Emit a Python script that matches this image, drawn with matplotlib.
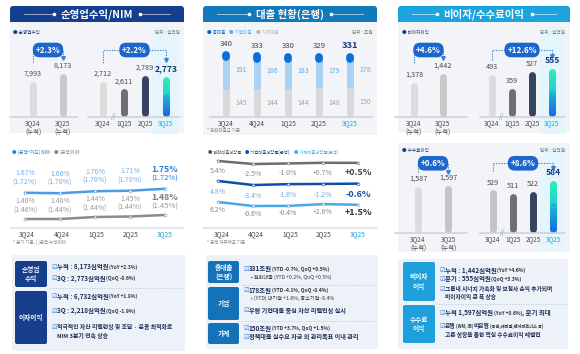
import matplotlib.pyplot as plt
import matplotlib.colors as mcolors
import numpy as np
from matplotlib.patches import FancyBboxPatch, Rectangle

plt.rcParams['font.family'] = ['Noto Sans CJK KR', 'DejaVu Sans']

# ---- data ----
cum_labels = ['3Q24\n(누적)', '3Q25\n(누적)']
q_labels = ['3Q24', '1Q25', '2Q25', '3Q25']
quarters = ['3Q24', '4Q24', '1Q25', '2Q25', '3Q25']

op_cum = [7993, 8173]
op_q = [2712, 2611, 2789, 2773]
op_cum_chg = '+2.3%'
op_q_chg = '+2.2%'

nim_card = [1.67, 1.66, 1.70, 1.71, 1.75]
nim_card_cum = [1.72, 1.70, 1.70, 1.70, 1.72]
nim_bank = [1.40, 1.40, 1.44, 1.45, 1.48]
nim_bank_cum = [1.46, 1.44, 1.44, 1.44, 1.45]

loan_total = [340, 333, 330, 329, 331]
loan_corp = [191, 186, 183, 179, 178]
loan_hh = [145, 144, 144, 148, 150]

growth_krw = [5.4, -2.5, -1.0, 0.7, 0.5]
growth_corp = [4.8, -3.4, -1.6, -1.2, -0.6]
growth_hh = [6.2, -0.6, -0.4, 2.6, 1.5]

nonint_cum = [1378, 1442]
nonint_q = [493, 359, 527, 555]
nonint_cum_chg = '+4.6%'
nonint_q_chg = '+12.6%'

fee_cum = [1587, 1597]
fee_q = [529, 511, 522, 584]
fee_cum_chg = '+0.6%'
fee_q_chg = '+8.6%'

# ---- canvas ----
W, H = 580, 354
fig = plt.figure(figsize=(W / 100, H / 100), dpi=100)
cv = fig.add_axes([0, 0, 1, 1])
cv.set_xlim(0, W)
cv.set_ylim(H, 0)
cv.set_axis_off()
rend = fig.canvas.get_renderer()

NAVY = '#1b3a7a'
TXT = '#1e2d55'
HL = '#2a9ed8'
GRAD = mcolors.LinearSegmentedColormap.from_list('grad', ['#1a6ee0', '#1fc8d6', '#2ee8bf'])
GREY_BARS = ['#dcdcdc', '#c9c9c9']
Q_BARS = ['#dcdcdc', '#6f6f6f', '#35455f', 'grad']


def px_axes(x0, y0, x1, y1):
    ax = fig.add_axes([x0 / W, 1 - y1 / H, (x1 - x0) / W, (y1 - y0) / H])
    ax.set_axis_off()
    return ax


def box(x0, y0, x1, y1, color, r=0.0):
    if r:
        p = FancyBboxPatch((x0 + r, y0 + r), x1 - x0 - 2 * r, y1 - y0 - 2 * r,
                           boxstyle=f'round,pad={r}', fc=color, ec='none')
    else:
        p = Rectangle((x0, y0), x1 - x0, y1 - y0, fc=color, ec='none')
    cv.add_patch(p)


def header(x0, x1, title, color):
    box(x0, 6, x1, 22, color, r=3)
    box(x0, 14, x1, 22, color)
    cx = (x0 + x1) / 2
    t = cv.text(cx, 14, title, ha='center', va='center', color='white',
                fontsize=7.5, fontweight='bold')
    half = t.get_window_extent(rend).width / 2 + 7
    cv.plot([x0 + 14, cx - half], [14, 14], color='white', lw=0.5, alpha=0.8)
    cv.plot([cx + half, x1 - 14], [14, 14], color='white', lw=0.5, alpha=0.8)
    cv.plot([cx - half, cx + half], [14, 14], 'o', ms=1.6, color='white', ls='none')


def bar_group(px, xlim, ylim, vals, labels, colors, hl=False):
    x0, y0, x1, y1 = px
    ax = px_axes(*px)
    ax.set_xlim(*xlim)
    ax.set_ylim(*ylim)
    upp = (ylim[1] - ylim[0]) / (y1 - y0)
    base = ylim[0] + 3.6 * upp
    for i, (v, c) in enumerate(zip(vals, colors)):
        top = v - 3.6 * upp
        if c == 'grad':
            ax.vlines(i, base, top, colors=[GRAD(1.0)], lw=5, capstyle='round')
            ax.vlines(i, base, (base + top) / 2, colors=[GRAD(0.0)], lw=5, capstyle='round')
            edges = np.linspace(base, top, 41)
            ax.vlines(np.full(40, i), edges[:-1], edges[1:],
                      colors=GRAD(np.linspace(0, 1, 40)), lw=5, capstyle='butt')
        else:
            ax.vlines(i, base, top, colors=c, lw=5, capstyle='round')
        last = hl and i == len(vals) - 1
        ax.text(i, v + 3 * upp, f'{v:,}', ha='center', va='bottom',
                fontsize=6.2 if last else 5.2, fontweight='bold' if last else 'normal',
                color=NAVY if last else '#4a4a4a')
        ax.text(i, ylim[0] - 2.5 * upp, labels[i], ha='center', va='top', fontsize=4.6,
                linespacing=1.15, color=HL if last else '#4a4a4a')
    ax.axhline(ylim[0], color='#cdd0d4', lw=1.1, clip_on=False)
    if hl:
        ax.text(0.5, ylim[0], '//', ha='center', va='center', fontsize=5,
                color='#7fa9d8', style='italic')
    return ax


def pill(ax, xb, text, yp, ya, yb, xa=0):
    tr = ax.get_xaxis_transform()
    ax.plot([xa, xa, xb, xb], [ya, yp, yp, yb], transform=tr, color='#3b82d6', lw=0.8,
            ls=(0, (1.2, 1.2)), clip_on=False)
    ax.plot([xb], [yb], marker='v', ms=2.6, transform=tr, color='#3b82d6',
            ls='none', clip_on=False)
    ax.text((xa + xb) / 2, yp, text, transform=tr, ha='center', va='center', fontsize=5.8,
            fontweight='bold', color='white', zorder=6,
            bbox=dict(boxstyle='round,pad=0.35,rounding_size=0.85', fc='#1d67cc', ec='none'))


def strip(px_x0, px_x1, first, step, yc, vals, scale, color):
    ax = px_axes(px_x0, yc - 20, px_x1, yc + 20)
    m = (max(vals) + min(vals)) / 2
    ax.set_ylim(m - 20 * scale, m + 20 * scale)
    ax.set_xlim((px_x0 - first) / step, (px_x1 - first) / step)
    ax.plot(np.arange(len(vals)), vals, color=color, lw=1.8, solid_capstyle='round',
            marker='o', ms=2.0, mfc='white', mec=color, mew=0.4, clip_on=False)
    return ax


def xlabels(px_x0, px_x1, first, step, y, labels):
    ax = px_axes(px_x0, y - 4, px_x1, y + 4)
    ax.set_xlim((px_x0 - first) / step, (px_x1 - first) / step)
    ax.set_ylim(0, 1)
    for i, lab in enumerate(labels):
        ax.text(i, 0.5, lab, ha='center', va='center', fontsize=4.8,
                color=HL if i == len(labels) - 1 else '#4a4a4a')


def rich(x, y, parts, gap=0.5):
    for txt, fs, bold, col in parts:
        t = cv.text(x, y, txt, fontsize=fs, fontweight='bold' if bold else 'normal',
                    color=col, ha='left', va='center')
        x = t.get_window_extent(rend).x1 + gap


def legend_row(x, y, items, fs=3.3):
    rich(x, y, [(f'● {txt}', fs, False, col) for txt, col in items], gap=4)


def check(x, y, parts):
    cv.text(x, y, '☑', fontsize=4.5, color='#3b7dd8', ha='left', va='center',
            family=['DejaVu Sans'])
    rich(x + 6, y, parts)


def label_box(x0, y0, x1, y1, text, color):
    box(x0, y0, x1, y1, color, r=2)
    cv.text((x0 + x1) / 2, (y0 + y1) / 2, text, ha='center', va='center', color='white',
            fontsize=4.8, fontweight='bold', linespacing=1.4)


def sep(x0, x1, y):
    cv.plot([x0, x1], [y, y], color='#b9c9dd', lw=0.5, ls=(0, (2, 1.5)))


def small(x, y, text, color='#555555', ha='left', fs=3.4):
    cv.text(x, y, text, fontsize=fs, color=color, ha=ha, va='center')


# ---- backgrounds ----
header(10, 184, '순영업수익/NIM', '#143f8e')
header(203, 377, '대출 현황(은행)', '#1279bb')
header(398, 570, '비이자/수수료이익', '#1ba4de')

box(10, 22, 184, 133, '#f3f4f7')
box(152, 27, 178, 134, '#e4f6fb')
box(203, 22, 377, 135, '#f3f4f7')
box(398, 22, 570, 133, '#f3f4f7')
box(540, 27, 566, 134, '#e4f6fb')
box(398, 143, 570, 252, '#f3f4f7')
box(540, 147, 566, 251, '#e4f6fb')
box(10, 227, 184, 229, '#e3e5e9')
box(203, 227, 377, 229, '#e3e5e9')

box(12, 255, 185, 351, '#edf2f9')
box(206, 255, 378, 349, '#edf2f9')
box(398, 259, 568, 349, '#edf2f9')

# ---- panel 1: operating revenue ----
legend_row(13, 33, [('순영업수익', NAVY)])
small(180, 33, '단위 : 십억원', '#777777', ha='right')
ax = bar_group((10, 40, 77, 117), (-0.767, 1.467), (7183, 8915), op_cum, cum_labels, GREY_BARS)
pill(ax, 1, op_cum_chg, 0.87, 0.71, 0.77)
ax = bar_group((88, 40, 180, 117), (-0.714, 3.667), (2250, 3238), op_q, q_labels, Q_BARS, hl=True)
pill(ax, 3, op_q_chg, 0.87, 0.70, 0.74)

# NIM
legend_row(12, 152, [('(은행+카드) NIM', '#2a7fd4'), ('(은행)NIM', '#8a8a8a')])
ax_c = strip(18, 172, 25, 35, 191, nim_card, 0.02, '#4a9be8')
ax_b = strip(18, 172, 25, 35, 217, nim_bank, 0.02, '#8c8c8c')
for i in range(len(quarters)):
    last = i == len(quarters) - 1
    ax_c.annotate(f'{nim_card[i]:.2f}%', (i, nim_card[i]), xytext=(0, 14.2),
                  textcoords='offset points', ha='center', va='center',
                  fontsize=6.3 if last else 5, fontweight='bold' if last else 'normal',
                  color='#2a7fd4' if last else '#6fb0ec')
    ax_c.annotate(f'({nim_card_cum[i]:.2f}%)', (i, nim_card[i]), xytext=(0, 7.6),
                  textcoords='offset points', ha='center', va='center',
                  fontsize=5.5 if last else 5, color='#2a7fd4' if last else '#6fb0ec')
    ax_b.annotate(f'{nim_bank[i]:.2f}%', (i, nim_bank[i]), xytext=(0, 12.8),
                  textcoords='offset points', ha='center', va='center',
                  fontsize=6.3 if last else 5, fontweight='bold' if last else 'normal',
                  color='#777777' if last else '#9a9a9a')
    ax_b.annotate(f'({nim_bank_cum[i]:.2f}%)', (i, nim_bank[i]), xytext=(0, 6.4),
                  textcoords='offset points', ha='center', va='center',
                  fontsize=5.5 if last else 5, color='#9a9a9a')
xlabels(18, 172, 27, 34.5, 234, quarters)
small(13, 242, '* 분기 기준, ( )은행 누적NIM', '#8a8a8a', fs=3.2)

# ---- panel 2: loans ----
legend_row(207, 33, [('총대출', '#0b62c8'), ('기업대출', '#5ab0ec'), ('가계대출', '#b5b5b5')])
small(373, 33, '단위 : 조원', '#777777', ha='right')
ax = px_axes(210, 45, 372, 117)
ax.set_xlim(-0.52, 4.71)
ax.set_ylim(0, 372)
upp = 372 / 72
xs = np.arange(len(loan_total))
tops = np.array(loan_total) - 3.6 * upp
ax.vlines(xs, 3.6 * upp, loan_hh, colors='#d9d9d9', lw=5, capstyle='round')
ax.vlines(xs, loan_hh, tops, colors='#a9d2f3', lw=5, capstyle='butt')
ax.vlines(xs, tops - 2.5 * upp, tops, colors='#0b6fd8', lw=5.6, capstyle='round')
ax.axhline(0, color='#cdd0d4', lw=1.1, clip_on=False)
for i in xs:
    last = i == len(xs) - 1
    ax.text(i, loan_total[i] + 3 * upp, str(loan_total[i]), ha='center', va='bottom',
            fontsize=6.6 if last else 5.6, fontweight='bold' if last else 'normal',
            color=NAVY if last else '#444444')
    ax.text(i + 0.3, (loan_hh[i] + loan_total[i]) / 2, str(loan_corp[i]), ha='left',
            va='center', fontsize=5.0, color='#5aaee8')
    ax.text(i + 0.3, loan_hh[i] / 2, str(loan_hh[i]), ha='left', va='center',
            fontsize=5.0, color='#a5a5a5')
    ax.text(i, -2.5 * upp, quarters[i], ha='center', va='top', fontsize=4.8,
            color=HL if last else '#4a4a4a')
small(207, 131, '* 원화대출금 기준', '#8a8a8a', fs=3.2)

# loan growth
legend_row(208, 152, [('원화대출성장률', '#555555'), ('기업대출성장률(은행)', '#0d4ea6'),
                      ('가계대출성장률(은행)', '#4aa8e8')], fs=3.1)
series = [
    (growth_krw, 162.5, 2.6, '#6e6e6e', -7.2, '#8a8a8a', '#444444'),
    (growth_corp, 183, 2.0, '#0d4ea6', -8.0, '#6aaee8', '#1d4f9f'),
    (growth_hh, 204, 1.7, '#4aa8e8', -5.4, '#8a8a8a', '#333333'),
]
for vals, yc, scale, col, dy, lcol, lastcol in series:
    ax = strip(206, 375, 218, 35, yc, vals, scale, col)
    for i, v in enumerate(vals):
        last = i == len(vals) - 1
        txt = f'{v:.1f}%' if i == 0 else f'{v:+.1f}%'
        ax.annotate(txt, (i, v), xytext=(0, dy), textcoords='offset points',
                    ha='center', va='center', fontsize=6.5 if last else 5,
                    fontweight='bold' if last else 'normal', color=lastcol if last else lcol)
xlabels(206, 375, 222, 34, 234, quarters)
small(207, 242, '* 은행 재무제표 기준', '#8a8a8a', fs=3.2)

# ---- panel 3: non-interest / fee income ----
legend_row(402, 33, [('비이자이익', NAVY)])
small(565, 33, '단위 : 십억원', '#777777', ha='right')
ax = bar_group((395, 40, 467, 117), (-0.655, 1.83), (1129, 1676), nonint_cum, cum_labels, GREY_BARS)
pill(ax, 1, nonint_cum_chg, 0.87, 0.70, 0.77)
ax = bar_group((480, 40, 565, 117), (-0.6, 3.65), (75, 830), nonint_q, q_labels, Q_BARS, hl=True)
pill(ax, 3, nonint_q_chg, 0.87, 0.74, 0.79)

legend_row(402, 151, [('수수료이익', NAVY)])
small(565, 151, '단위 : 십억원', '#777777', ha='right')
ax = bar_group((395, 150, 467, 233), (-0.767, 1.633), (1117, 1947), fee_cum, cum_labels,
               ['#dcdcdc', '#c4c4c4'])
pill(ax, 1, fee_cum_chg, 0.84, 0.73, 0.74)
ax = bar_group((480, 150, 565, 233), (-0.65, 3.6), (287, 752), fee_q, q_labels,
               ['#c4c4c4', '#6f6f6f', '#35455f', 'grad'], hl=True)
pill(ax, 3, fee_q_chg, 0.84, 0.75, 0.78)

# ---- text boxes ----
B, S = 4.6, 3.5
label_box(15, 261, 47, 287, '순영업\n수익', '#163e8a')
label_box(15, 291, 47, 344, '이자이익', '#163e8a')
sep(50, 183, 288)
check(51, 267, [('누적 : 8,173십억원', B, True, TXT), ('(YoY +2.3%)', S, True, '#333333')])
check(51, 278, [('3Q : 2,773십억원', B, True, TXT), ('(QoQ -0.6%)', S, True, '#333333')])
check(51, 296, [('누적 : 6,732십억원', B, True, TXT), ('(YoY +1.8%)', S, True, '#333333')])
check(51, 311, [('3Q : 2,218십억원', B, True, TXT), ('(QoQ -1.9%)', S, True, '#333333')])
check(51, 327, [('적극적인 자산 리밸런싱 및 조달 · 운용 최적화로', 4.2, True, TXT)])
rich(57, 336, [('NIM 3분기 연속 상승', 4.2, True, TXT)])

label_box(208, 261, 239, 283, '총대출\n(은행)', '#1472b8')
label_box(208, 287, 239, 320, '기업', '#1472b8')
label_box(208, 323, 239, 344, '가계', '#1472b8')
sep(242, 376, 285)
sep(242, 376, 321)
check(243, 269, [('331조원', B, True, TXT), ('(YTD -0.7%, QoQ +0.5%)', S, True, '#333333')])
rich(251, 277, [('• 원화대출 (YTD +0.2%, QoQ +0.5%)', 3.7, False, '#333333')])
check(243, 290, [('178조원', B, True, TXT), ('(YTD -4.1%, QoQ -0.4%)', S, True, '#333333')])
rich(251, 298, [('• (YTD) 대기업 +1.8%, 중소기업 -6.4%', 3.7, False, '#333333')])
check(243, 310, [('우량 기업대출 중심 자산 리밸런싱 실시', 4.4, True, TXT)])
check(243, 328, [('150조원', B, True, TXT), ('(YTD +3.7%, QoQ +1.5%)', S, True, '#333333')])
check(243, 337, [('정책대출 실수요 자금 외 관리목표 이내 관리', 4.4, True, TXT)])

label_box(403, 262, 435, 301, '비이자\n이익', '#1c9fdb')
label_box(403, 305, 435, 343, '수수료\n이익', '#1c9fdb')
sep(438, 566, 304)
check(439, 270, [('누적 : 1,442십억원', B, True, TXT), ('(YoY +4.6%)', S, True, '#333333')])
check(439, 279, [('분기 : 555십억원', B, True, TXT), ('(QoQ +5.3%)', S, True, '#333333')])
check(439, 289, [('그룹내 시너지 가속화 및 보험사 손익 추가되며', 4.1, True, TXT)])
rich(445, 297, [('비이자이익 큰 폭 상승', 4.1, True, TXT)])
check(439, 313, [('누적 1,597십억원', B, True, TXT), ('(YoY +0.6%)', S, True, '#333333'),
                 (', 분기 최대', B, True, TXT)])
check(439, 326, [('은행', 4.1, True, TXT), ('(WM, IB)', 3.0, True, '#333333'),
                 ('비은행', 4.1, True, TXT), ('(증권,캐피탈,벤처파트너스 등)', 3.0, True, '#333333')])
rich(445, 335, [('고른 성장을 통한 핵심 수수료이익 레벨업', 4.1, True, TXT)])

fig.savefig('out.png', dpi=100, facecolor='white')
